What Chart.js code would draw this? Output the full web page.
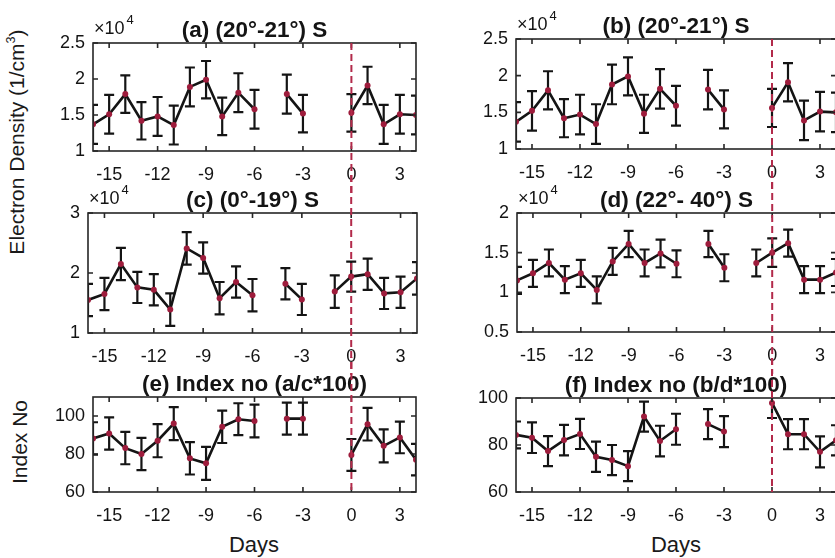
<!DOCTYPE html>
<html>
<head>
<meta charset="utf-8">
<script src="https://cdn.jsdelivr.net/npm/chart.js@4.4.0/dist/chart.umd.min.js"></script>
<style>
    html, body { margin: 0; padding: 0; background: #fff; }
    body { width: 835px; height: 558px; position: relative; overflow: hidden;
           font-family: "Liberation Sans", Arial, sans-serif; color: #1a1a1a; }
    canvas { position: absolute; }
    .ylab { position: absolute; transform: translate(-50%, -50%) rotate(-90deg); font-size: 21px; white-space: nowrap; }
    .xlab { position: absolute; transform: translate(-50%, -50%); font-size: 22px; white-space: nowrap; }
    sup { font-size: 0.6em; line-height: 0; vertical-align: 0.7em; }
</style>
</head>
<body>
<div class="ylab" style="left:17px;top:142px">Electron Density (1/cm<sup>3</sup>)</div>
<div class="ylab" style="left:20px;top:442px">Index No</div>
<div class="xlab" style="left:254px;top:545px">Days</div>
<div class="xlab" style="left:676px;top:545px">Days</div>
<script>
const days = [-16, -15, -14, -13, -12, -11, -10, -9, -8, -7, -6, -5, -4, -3, -2, -1, 0, 1, 2, 3, 4];
const dayTicks = [-15, -12, -9, -6, -3, 0, 3];

// electron density, units of 1e4 /cm^3 (null = no data that day)
const densA = [1.37, 1.51, 1.79, 1.42, 1.48, 1.36, 1.89, 1.99, 1.48, 1.81, 1.58, null, 1.79, 1.52, null, null, 1.53, 1.91, 1.37, 1.51, 1.50];
const errA  = [0.27, 0.27, 0.26, 0.26, 0.27, 0.27, 0.27, 0.26, 0.26, 0.27, 0.27, null, 0.27, 0.26, null, null, 0.26, 0.26, 0.27, 0.27, 0.27];
const densB = [1.37, 1.52, 1.80, 1.42, 1.47, 1.34, 1.88, 1.99, 1.48, 1.82, 1.59, null, 1.81, 1.54, null, null, 1.56, 1.91, 1.39, 1.51, 1.50];
const errB  = [0.27, 0.27, 0.26, 0.26, 0.27, 0.27, 0.27, 0.26, 0.26, 0.27, 0.27, null, 0.27, 0.26, null, null, 0.26, 0.26, 0.27, 0.27, 0.27];
const densC = [1.55, 1.65, 2.15, 1.76, 1.72, 1.39, 2.41, 2.25, 1.58, 1.85, 1.63, null, 1.82, 1.56, null, 1.69, 1.94, 1.98, 1.66, 1.68, 1.91];
const errC  = [0.27, 0.27, 0.27, 0.26, 0.26, 0.27, 0.27, 0.26, 0.27, 0.26, 0.27, null, 0.26, 0.26, null, 0.27, 0.25, 0.26, 0.26, 0.26, 0.27];
const densD = [1.15, 1.24, 1.37, 1.16, 1.24, 1.03, 1.39, 1.61, 1.37, 1.49, 1.36, null, 1.61, 1.31, null, 1.37, 1.50, 1.62, 1.16, 1.16, 1.25];
const errD  = [0.17, 0.17, 0.17, 0.17, 0.17, 0.17, 0.17, 0.165, 0.17, 0.175, 0.17, null, 0.165, 0.17, null, 0.17, 0.18, 0.17, 0.17, 0.17, 0.17];

// index numbers
const indexE = [88.2, 90.8, 83.1, 80.0, 87.0, 96.0, 77.7, 75.1, 94.3, 98.3, 97.4, null, 98.6, 98.6, null, null, 79.5, 95.7, 84.3, 88.7, 77.0];
const errE   = [8.5, 8.5, 8.5, 8.5, 8.7, 8.7, 8.5, 8.7, 8.5, 8.4, 8.6, null, 8.4, 8.4, null, null, 8.4, 8.6, 8.7, 8.3, 8.3];
const indexF = [84.3, 83.1, 77.4, 82.1, 84.7, 75.0, 73.6, 71.0, 92.1, 81.7, 86.7, null, 88.9, 85.7, null, null, 97.9, 84.6, 84.6, 77.1, 82.0];
const errF   = [5.7, 6.5, 6.4, 6.5, 6.4, 6.4, 6.4, 6.4, 6.4, 6.5, 6.6, null, 6.4, 6.6, null, null, 6.4, 6.4, 6.4, 6.6, 6.4];

const ticksDensAB = [1, 1.5, 2, 2.5];
const ticksDensC = [1, 2, 3];
const ticksDensD = [0.5, 1, 1.5, 2];
const ticksIndex = [60, 80, 100];

const titles = ['(a) (20°-21°) S', '(b) (20°-21°) S', '(c) (0°-19°) S', '(d) (22°- 40°) S',
                '(e) Index no (a/c*100)', '(f) Index no (b/d*100)'];

const FONT = '"Liberation Sans", Arial, sans-serif';
const INK = '#141414';
const DOT = '#9e1c3c';
const DASH = '#b22a4a';

// plot box in page pixels: [left, top, right, bottom]; dash = page y span of the day-0 line
const panels = [
    { values: densA, errors: errA, yMin: 1, yMax: 2.5, yTicks: ticksDensAB, title: titles[0], exponent: true, area: [93, 43, 416, 151], dash: [43, 492] },
    { values: densB, errors: errB, yMin: 1, yMax: 2.5, yTicks: ticksDensAB, title: titles[1], exponent: true, area: [516, 39, 836, 149], dash: [39, 492] },
    { values: densC, errors: errC, yMin: 1, yMax: 3, yTicks: ticksDensC, title: titles[2], exponent: true, area: [88, 213, 417, 333], dash: [43, 492] },
    { values: densD, errors: errD, yMin: 0.5, yMax: 2, yTicks: ticksDensD, title: titles[3], exponent: true, area: [517, 213, 836, 332], dash: [39, 492] },
    { values: indexE, errors: errE, yMin: 60, yMax: 110, yTicks: ticksIndex, title: titles[4], exponent: false, area: [93, 397, 416, 492], dash: [43, 492] },
    { values: indexF, errors: errF, yMin: 60, yMax: 100, yTicks: ticksIndex, title: titles[5], exponent: false, area: [516, 398, 836, 492], dash: [39, 492] }
];

function panelPlugins(p) {
    const errorBars = {
        id: 'errorBars',
        beforeDatasetsDraw(chart) {
            const { ctx, chartArea: a, scales: { x, y } } = chart;
            ctx.save();
            ctx.beginPath();
            ctx.rect(a.left, a.top, a.width, a.height);
            ctx.clip();
            ctx.strokeStyle = INK;
            ctx.lineWidth = 2.2;
            days.forEach((d, i) => {
                const v = p.values[i];
                if (v === null) return;
                const e = p.errors[i];
                const px = x.getPixelForValue(d);
                const hi = y.getPixelForValue(v + e);
                const lo = y.getPixelForValue(v - e);
                ctx.beginPath();
                ctx.moveTo(px, hi); ctx.lineTo(px, lo);
                ctx.moveTo(px - 5, hi); ctx.lineTo(px + 5, hi);
                ctx.moveTo(px - 5, lo); ctx.lineTo(px + 5, lo);
                ctx.stroke();
            });
            ctx.restore();
        }
    };
    const frame = {
        id: 'frame',
        afterDraw(chart) {
            const { ctx, chartArea: a, scales: { x, y } } = chart;
            ctx.save();
            // box with inward ticks
            ctx.strokeStyle = '#262626';
            ctx.lineWidth = 1.6;
            ctx.strokeRect(a.left, a.top, a.right - a.left, a.bottom - a.top);
            ctx.beginPath();
            dayTicks.forEach(d => {
                const px = x.getPixelForValue(d);
                ctx.moveTo(px, a.bottom); ctx.lineTo(px, a.bottom - 5);
                ctx.moveTo(px, a.top); ctx.lineTo(px, a.top + 5);
            });
            p.yTicks.forEach(v => {
                const py = y.getPixelForValue(v);
                ctx.moveTo(a.left, py); ctx.lineTo(a.left + 5, py);
                ctx.moveTo(a.right, py); ctx.lineTo(a.right - 5, py);
            });
            ctx.stroke();

            // title
            ctx.fillStyle = INK;
            ctx.font = 'bold 22.5px ' + FONT;
            ctx.textAlign = 'center';
            ctx.textBaseline = 'alphabetic';
            ctx.fillText(p.title, (a.left + a.right) / 2, a.top - 6);

            // x10^4 multiplier
            if (p.exponent) {
                ctx.textAlign = 'left';
                ctx.font = '18px ' + FONT;
                ctx.fillText('×10', a.left + 1, a.top - 9);
                const w = ctx.measureText('×10').width;
                ctx.font = '13px ' + FONT;
                ctx.fillText('4', a.left + 3 + w, a.top - 19);
            }

            // day-0 dashed line, spanning the whole column
            const zx = x.getPixelForValue(0);
            const off = p.pageTop || 0;
            ctx.strokeStyle = DASH;
            ctx.lineWidth = 2;
            ctx.setLineDash([7, 4]);
            ctx.beginPath();
            ctx.moveTo(zx, p.dash[0] - off);
            ctx.lineTo(zx, p.dash[1] - off);
            ctx.stroke();
            ctx.restore();
        }
    };
    return [errorBars, frame];
}

function buildChart(canvas, p) {
    return new Chart(canvas.getContext('2d'), {
        type: 'line',
        data: {
            datasets: [{
                data: days.map((d, i) => ({ x: d, y: p.values[i] })),
                borderColor: INK,
                borderWidth: 2.6,
                pointRadius: 3,
                pointBackgroundColor: DOT,
                pointBorderColor: DOT,
                pointBorderWidth: 0,
                spanGaps: false,
                tension: 0
            }]
        },
        options: {
            responsive: false,
            animation: false,
            events: [],
            layout: { padding: { top: 40, left: 0, right: 0, bottom: 0 } },
            plugins: { legend: { display: false }, tooltip: { enabled: false } },
            scales: {
                x: {
                    type: 'linear',
                    min: -16,
                    max: 4,
                    afterBuildTicks: s => { s.ticks = dayTicks.map(v => ({ value: v })); },
                    afterFit: s => { s.height = 42; },
                    ticks: { color: INK, font: { size: 18, family: FONT }, padding: 13, maxRotation: 0, autoSkip: false },
                    grid: { display: false, drawTicks: false },
                    border: { display: false }
                },
                y: {
                    min: p.yMin,
                    max: p.yMax,
                    afterBuildTicks: s => { s.ticks = p.yTicks.map(v => ({ value: v })); },
                    afterFit: s => { s.width = 52; },
                    ticks: { color: INK, font: { size: 18, family: FONT }, padding: 8, callback: v => String(v) },
                    grid: { display: false, drawTicks: false },
                    border: { display: false }
                }
            }
        },
        plugins: panelPlugins(p)
    });
}

function place(p) {
    const W = p.area[2] - p.area[0];
    const H = p.area[3] - p.area[1];
    // first pass: find how far the plot box sits inside the canvas
    let cv = document.createElement('canvas');
    cv.width = W + 100;
    cv.height = H + 100;
    document.body.appendChild(cv);
    let chart = buildChart(cv, p);
    const a = chart.chartArea;
    const padL = a.left, padT = a.top, padR = cv.width - a.right, padB = cv.height - a.bottom;
    chart.destroy();
    cv.remove();

    cv = document.createElement('canvas');
    cv.width = padL + W + padR;
    cv.height = padT + H + padB;
    cv.style.left = (p.area[0] - padL) + 'px';
    cv.style.top = (p.area[1] - padT) + 'px';
    p.pageTop = p.area[1] - padT;
    document.body.appendChild(cv);
    buildChart(cv, p);
}

panels.forEach(place);
</script>
</body>
</html>
